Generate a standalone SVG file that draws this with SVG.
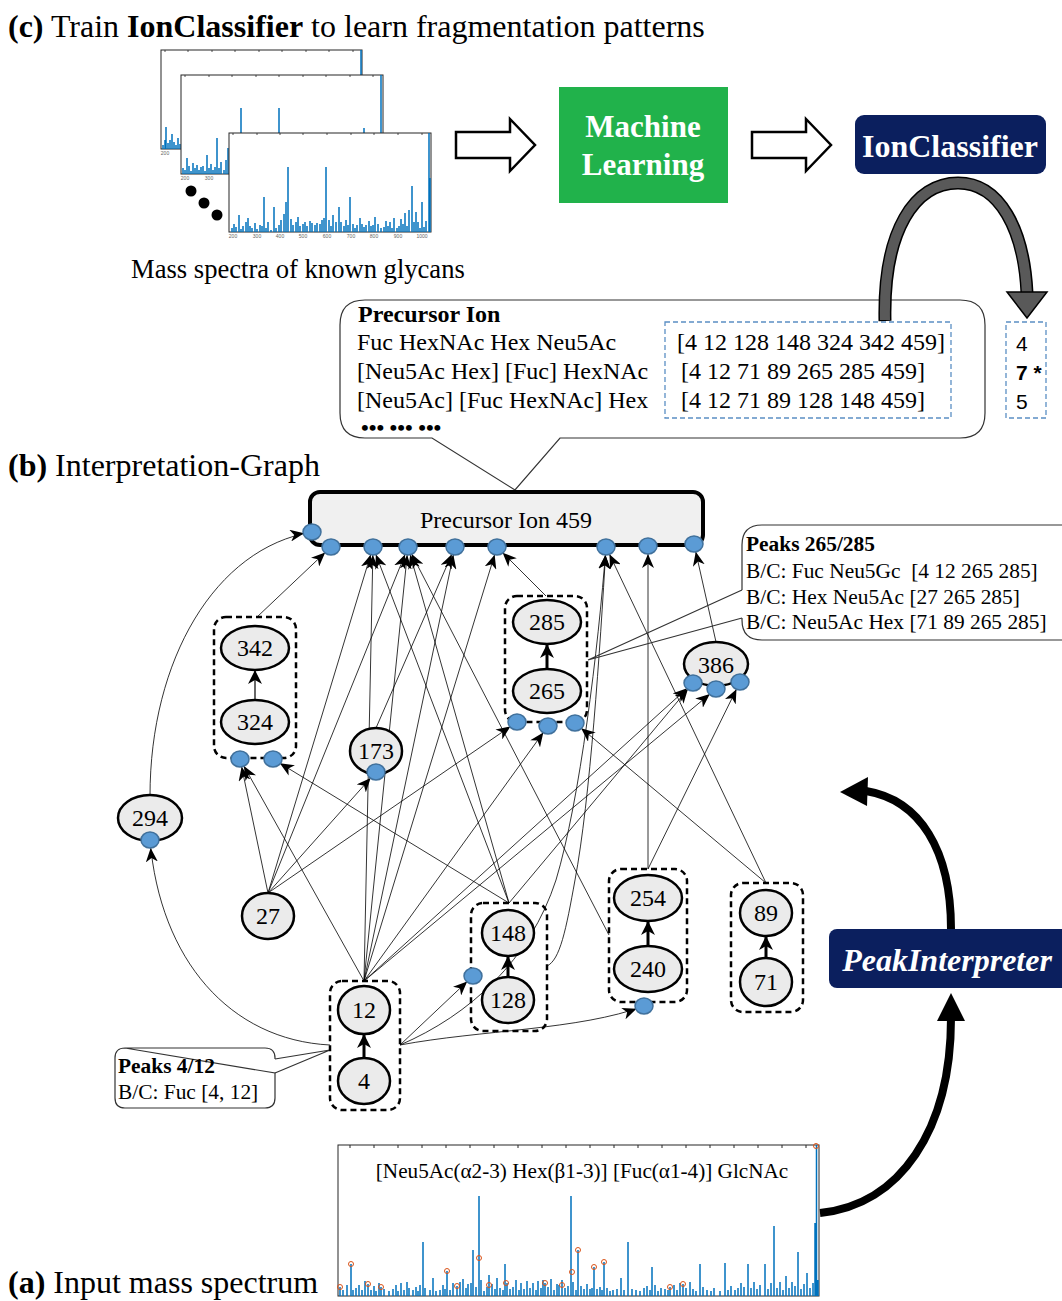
<svg xmlns="http://www.w3.org/2000/svg" width="1062" height="1301" viewBox="0 0 1062 1301">
<style>
text{font-family:"Liberation Serif","Times New Roman",serif;fill:#000}
.t27{font-size:32px}
.b{font-weight:bold}
.node{fill:#ebebeb;stroke:#000;stroke-width:2.5}
.num{font-size:24px;text-anchor:middle}
.grp{fill:none;stroke:#000;stroke-width:2.5;stroke-dasharray:6 4}
.dot{fill:#5b9bd5;stroke:#41719c;stroke-width:1.5}
.e{fill:none;stroke:#000;stroke-width:0.8;marker-end:url(#ah)}
.st{fill:none;stroke:#000;stroke-width:3;marker-end:url(#ah2)}
.frame{fill:#fff;stroke:#262626;stroke-width:1}
.tk{fill:none;stroke:#262626;stroke-width:0.8}
.bars{fill:none;stroke:#0072bd;stroke-width:1.5}
.tick{font-family:"Liberation Sans",Arial,sans-serif;font-size:5px;fill:#666;text-anchor:middle}
.call{fill:#fff;stroke:#333;stroke-width:1.2}
.ct{font-size:24px}
.pk{font-size:21.4px}
.pk2{font-family:"Liberation Sans",Arial,sans-serif;font-size:21px}
.pkc{fill:none;stroke:#d95319;stroke-width:1}
</style>
<defs>
<marker id="ah" markerWidth="16" markerHeight="12" refX="22" refY="6" orient="auto" markerUnits="userSpaceOnUse"><path d="M0,0 L14,6 L0,12 L4,6 z" fill="#000"/></marker>
<marker id="ah2" markerWidth="16" markerHeight="14" refX="14" refY="7" orient="auto" markerUnits="userSpaceOnUse"><path d="M0,0 L14,7 L0,14 L4,7 z" fill="#000"/></marker>
</defs>

<!-- (c) section -->
<text class="t27" x="8" y="37"><tspan class="b">(c)</tspan> Train <tspan class="b">IonClassifier</tspan> to learn fragmentation patterns</text>

<g id="spectra-stack">
<rect class="frame" x="161" y="50" width="201" height="99"/>
<path class="tk" d="M165,50v2M188,50v2M212,50v2M235,50v2M259,50v2M282,50v2M306,50v2M329,50v2M353,50v2"/>
<path class="bars" d="M163,149V145M165,149V140M166,149V127M168,149V143M170,149V140M172,149V134M174,149V142M176,149V145M178,149V138M180,149V144M361,149V50"/>
<text class="tick" x="165" y="155">200</text>
<rect class="frame" x="181" y="75" width="202" height="99"/>
<path class="tk" d="M185,75v2M209,75v2M232,75v2M256,75v2M279,75v2M303,75v2M326,75v2M350,75v2M373,75v2"/>
<path class="bars" d="M183,174V168M185,174V170M187,174V158M189,174V166M191,174V171M193,174V163M195,174V168M197,174V165M199,174V170M201,174V167M203,174V166M205,174V171M207,174V155M209,174V168M211,174V164M213,174V170M215,174V167M217,174V138M219,174V168M221,174V162M224,174V170M226,174V160M228,174V148M241,174V108M279,174V108M364,174V128M381,174V75"/>
<text class="tick" x="185" y="180">200</text>
<text class="tick" x="209" y="180">300</text>
<rect class="frame" x="229" y="133" width="202" height="99"/>
<path class="tk" d="M233,133v2M257,133v2M280,133v2M303,133v2M327,133v2M351,133v2M374,133v2M398,133v2M422,133v2"/>
<path class="bars" d="M232,232V228M234,232V224M236,232V227M239,232V215M241,232V229M243,232V226M246,232V222M248,232V218M250,232V226M252,232V228M255,232V223M257,232V229M260,232V225M262,232V226M264,232V197M266,232V228M268,232V222M271,232V230M274,232V207M276,232V228M279,232V225M281,232V220M284,232V214M286,232V202M288,232V167M291,232V219M293,232V225M296,232V222M298,232V217M300,232V226M303,232V224M305,232V222M307,232V226M310,232V221M312,232V223M315,232V225M317,232V223M320,232V224M322,232V220M324,232V218M326,232V167M329,232V220M331,232V226M333,232V215M336,232V222M339,232V207M341,232V222M344,232V226M346,232V220M348,232V225M350,232V197M353,232V224M355,232V228M357,232V225M360,232V218M362,232V224M364,232V227M366,232V225M369,232V221M371,232V226M373,232V225M375,232V217M378,232V224M381,232V228M384,232V227M386,232V221M388,232V226M390,232V222M392,232V228M394,232V218M397,232V228M399,232V226M401,232V219M403,232V224M405,232V213M407,232V226M409,232V210M412,232V186M414,232V222M416,232V212M418,232V222M420,232V228M422,232V202M424,232V227M426,232V221M429,232V133M430,232V178"/>
<text class="tick" x="233" y="238">200</text><text class="tick" x="257" y="238">300</text><text class="tick" x="280" y="238">400</text><text class="tick" x="303" y="238">500</text><text class="tick" x="327" y="238">600</text><text class="tick" x="351" y="238">700</text><text class="tick" x="374" y="238">800</text><text class="tick" x="398" y="238">900</text><text class="tick" x="422" y="238">1000</text>
<circle cx="191" cy="191" r="5.5"/><circle cx="204" cy="203" r="5.5"/><circle cx="217" cy="215" r="5.5"/>
</g>
<text x="131" y="278" style="font-size:26.6px">Mass spectra of known glycans</text>

<g id="arrow-1"><polygon points="456,132 510,132 510,119 535,145 510,171 510,158 456,158" fill="#fff" stroke="#000" stroke-width="2.5"/></g>
<g id="machine-learning">
<rect x="559" y="87" width="169" height="116" fill="#21b24b"/>
<text x="643" y="137" class="b" style="font-size:31px;fill:#fff;text-anchor:middle">Machine</text>
<text x="643" y="175" class="b" style="font-size:31px;fill:#fff;text-anchor:middle">Learning</text>
</g>
<g id="arrow-2"><polygon points="752,132 806,132 806,119 831,145 806,171 806,158 752,158" fill="#fff" stroke="#000" stroke-width="2.5"/></g>
<g id="ionclassifier">
<rect x="855" y="115" width="191" height="59" rx="9" fill="#0b1f5e"/>
<text x="950" y="157" class="b" style="font-size:32px;fill:#fff;text-anchor:middle">IonClassifier</text>
</g>

<!-- Precursor Ion callout -->
<g id="precursor-callout">
<path class="call" d="M365,300 H960 Q985,300 985,325 V413 Q985,438 960,438 H560 L515,490 L432,438 H365 Q340,438 340,413 V325 Q340,300 365,300 Z"/>
<text x="358" y="322" class="ct b">Precursor Ion</text>
<text x="357" y="350" class="ct">Fuc HexNAc Hex Neu5Ac</text>
<text x="357" y="379" class="ct">[Neu5Ac Hex] [Fuc] HexNAc</text>
<text x="357" y="408" class="ct">[Neu5Ac] [Fuc HexNAc] Hex</text>
<text x="361" y="435" class="b" style="font-size:22px">••• ••• •••</text>
<rect x="665" y="322" width="286" height="96" fill="none" stroke="#5b8fc4" stroke-width="1.3" stroke-dasharray="5 3"/>
<text x="677" y="350" class="ct">[4 12 128 148 324 342 459]</text>
<text x="681" y="379" class="ct">[4 12 71 89 265 285 459]</text>
<text x="681" y="408" class="ct">[4 12 71 89 128 148 459]</text>
</g>
<g id="class-result">
<rect x="1006" y="322" width="40" height="96" fill="none" stroke="#5b8fc4" stroke-width="1.3" stroke-dasharray="5 3"/>
<text x="1016" y="351" class="pk2">4</text>
<text x="1016" y="380" class="pk2 b">7 *</text>
<text x="1016" y="409" class="pk2">5</text>
</g>
<g id="classify-arrow">
<path d="M885,321 C883,230 915,183 958,183 C1000,183 1024,230 1027,293" fill="none" stroke="#000" stroke-width="13"/>
<path d="M885,320 C883,230 915,183 958,183 C1000,183 1024,230 1027,294" fill="none" stroke="#595959" stroke-width="10"/>
<polygon points="1007,292 1047,292 1027,318" fill="#595959" stroke="#000" stroke-width="1.5"/>
</g>

<text class="t27" x="8" y="476"><tspan class="b">(b)</tspan> Interpretation-Graph</text>

<!-- connectors -->
<g id="connectors">
<path class="e" d="M150,796 C150,660 215,548 312,532"/>
<path class="e" d="M257,617 L331,547"/>
<path class="e" d="M268,893 L373,547"/>
<path class="e" d="M364,981 L373,547"/>
<path class="e" d="M509,903 L373,547"/>
<path class="e" d="M268,893 L408,547"/>
<path class="e" d="M364,981 L408,547"/>
<path class="e" d="M509,903 L408,547"/>
<path class="e" d="M609,935 L408,547"/>
<path class="e" d="M376,728 L455,547"/>
<path class="e" d="M364,981 L455,547"/>
<path class="e" d="M546,596 L497,547"/>
<path class="e" d="M364,981 L497,547"/>
<path class="e" d="M547,966 C560,960 566,930 575,880 C590,800 600,650 606,547"/>
<path class="e" d="M400,1045 C470,1015 530,960 556,880 C580,800 598,650 606,547"/>
<path class="e" d="M766,883 L606,547"/>
<path class="e" d="M648,869 L648,546"/>
<path class="e" d="M716,642 L694,544"/>
<path class="e" d="M268,893 L240,759"/>
<path class="e" d="M364,981 L240,759"/>
<path class="e" d="M509,903 L273,759"/>
<path class="e" d="M268,893 L376,772"/>
<path class="e" d="M268,893 L517,722"/>
<path class="e" d="M364,981 L548,726"/>
<path class="e" d="M766,883 L575,723"/>
<path class="e" d="M364,981 L693,683"/>
<path class="e" d="M509,903 L693,683"/>
<path class="e" d="M364,981 L716,689"/>
<path class="e" d="M648,869 L740,682"/>
<path class="e" d="M330,1045 C230,1040 160,960 150,840"/>
<path class="e" d="M400,1045 L473,976"/>
<path class="e" d="M400,1045 C480,1030 580,1030 644,1006"/>
<path d="M588,660 L742,590 M588,660 L742,618" stroke="#333" stroke-width="1.2" fill="none"/>
<path d="M330,1050 L275,1059 M330,1050 L275,1073" stroke="#333" stroke-width="1.2" fill="none"/>
</g>

<g id="precursor-459">
<rect x="310" y="492" width="393" height="53" rx="10" fill="#f0f0f0" stroke="#000" stroke-width="4"/>
<text x="506" y="528" style="font-size:24px;text-anchor:middle">Precursor Ion 459</text>
<ellipse class="dot" cx="312" cy="532" rx="9" ry="8"/>
<ellipse class="dot" cx="331" cy="547" rx="9" ry="8"/>
<ellipse class="dot" cx="373" cy="547" rx="9" ry="8"/>
<ellipse class="dot" cx="408" cy="547" rx="9" ry="8"/>
<ellipse class="dot" cx="455" cy="547" rx="9" ry="8"/>
<ellipse class="dot" cx="497" cy="547" rx="9" ry="8"/>
<ellipse class="dot" cx="606" cy="547" rx="9" ry="8"/>
<ellipse class="dot" cx="648" cy="546" rx="9" ry="8"/>
<ellipse class="dot" cx="694" cy="544" rx="9" ry="8"/>
</g>

<g id="group-342-324">
<rect class="grp" x="214" y="617" width="82" height="141" rx="12"/>
<path class="e" style="stroke-width:1.2;marker-end:url(#ah2)" d="M255,700 L255,670"/>
<ellipse class="node" cx="255" cy="648" rx="34" ry="22"/><text class="num" x="255" y="656">342</text>
<ellipse class="node" cx="255" cy="722" rx="34" ry="22"/><text class="num" x="255" y="730">324</text>
<ellipse class="dot" cx="240" cy="759" rx="9" ry="8"/>
<ellipse class="dot" cx="273" cy="759" rx="9" ry="8"/>
</g>
<g id="node-173">
<ellipse class="node" cx="376" cy="751" rx="26" ry="23"/><text class="num" x="376" y="759">173</text>
<ellipse class="dot" cx="376" cy="772" rx="9" ry="8"/>
</g>
<g id="node-294">
<ellipse class="node" cx="150" cy="818" rx="32" ry="23"/><text class="num" x="150" y="826">294</text>
<ellipse class="dot" cx="150" cy="840" rx="9" ry="8"/>
</g>
<g id="group-285-265">
<rect class="grp" x="505" y="596" width="82" height="126" rx="12"/>
<path class="st" d="M547,669 L547,644"/>
<ellipse class="node" cx="547" cy="622" rx="34" ry="22"/><text class="num" x="547" y="630">285</text>
<ellipse class="node" cx="547" cy="691" rx="34" ry="22"/><text class="num" x="547" y="699">265</text>
<ellipse class="dot" cx="517" cy="722" rx="9" ry="8"/>
<ellipse class="dot" cx="548" cy="726" rx="9" ry="8"/>
<ellipse class="dot" cx="575" cy="723" rx="9" ry="8"/>
</g>
<g id="node-386">
<ellipse class="node" cx="716" cy="664" rx="32" ry="22"/><text class="num" x="716" y="673">386</text>
<ellipse class="dot" cx="693" cy="683" rx="9" ry="8"/>
<ellipse class="dot" cx="716" cy="689" rx="9" ry="8"/>
<ellipse class="dot" cx="740" cy="682" rx="9" ry="8"/>
</g>
<g id="node-27">
<ellipse class="node" cx="268" cy="916" rx="26" ry="23"/><text class="num" x="268" y="924">27</text>
</g>
<g id="group-12-4">
<rect class="grp" x="330" y="981" width="70" height="129" rx="12"/>
<path class="st" d="M364,1057 L364,1034"/>
<ellipse class="node" cx="364" cy="1010" rx="26" ry="24"/><text class="num" x="364" y="1018">12</text>
<ellipse class="node" cx="364" cy="1081" rx="26" ry="23"/><text class="num" x="364" y="1089">4</text>
</g>
<g id="group-148-128">
<rect class="grp" x="471" y="903" width="76" height="128" rx="12"/>
<path class="st" d="M508,977 L508,956"/>
<ellipse class="node" cx="508" cy="933" rx="26" ry="23"/><text class="num" x="508" y="941">148</text>
<ellipse class="node" cx="508" cy="1000" rx="26" ry="23"/><text class="num" x="508" y="1008">128</text>
<ellipse class="dot" cx="473" cy="976" rx="9" ry="8"/>
</g>
<g id="group-254-240">
<rect class="grp" x="609" y="869" width="78" height="133" rx="12"/>
<path class="st" d="M648,946 L648,921"/>
<ellipse class="node" cx="648" cy="898" rx="34" ry="23"/><text class="num" x="648" y="906">254</text>
<ellipse class="node" cx="648" cy="969" rx="34" ry="23"/><text class="num" x="648" y="977">240</text>
<ellipse class="dot" cx="644" cy="1006" rx="9" ry="8"/>
</g>
<g id="group-89-71">
<rect class="grp" x="731" y="883" width="72" height="129" rx="12"/>
<path class="st" d="M766,958 L766,936"/>
<ellipse class="node" cx="766" cy="913" rx="26" ry="23"/><text class="num" x="766" y="921">89</text>
<ellipse class="node" cx="766" cy="982" rx="26" ry="24"/><text class="num" x="766" y="990">71</text>
</g>

<g id="peaks-265-285">
<path class="call" d="M762,525 H1075 V640 H762 Q742,640 742,620 V618 M742,590 V545 Q742,525 762,525"/>
<text x="746" y="551" class="pk b">Peaks 265/285</text>
<text x="746" y="578" class="pk" xml:space="preserve">B/C: Fuc Neu5Gc  [4 12 265 285]</text>
<text x="746" y="604" class="pk">B/C: Hex Neu5Ac [27 265 285]</text>
<text x="746" y="629" class="pk">B/C: Neu5Ac Hex [71 89 265 285]</text>
</g>
<g id="peaks-4-12">
<path class="call" d="M125,1048 H265 Q275,1048 275,1058 V1059 M275,1073 V1098 Q275,1108 265,1108 H125 Q115,1108 115,1098 V1058 Q115,1048 125,1048 Z"/>
<text x="118" y="1073" class="pk b">Peaks 4/12</text>
<text x="118" y="1099" class="pk">B/C: Fuc [4, 12]</text>
</g>

<g id="peak-interpreter">
<rect x="829" y="929" width="240" height="59" rx="8" fill="#0b1f5e"/>
<text x="947" y="971" class="b" style="font-size:32px;font-style:italic;fill:#fff;text-anchor:middle">PeakInterpreter</text>
</g>
<g id="interp-arrows">
<path d="M951,929 C951,850 920,800 866,791" fill="none" stroke="#000" stroke-width="8"/>
<polygon points="840,792 868,777 867,806" fill="#000"/>
<path d="M820,1213 C900,1205 951,1130 951,1018" fill="none" stroke="#000" stroke-width="8"/>
<polygon points="951,993 937,1021 965,1021" fill="#000"/>
</g>

<g id="input-spectrum">
<rect x="338" y="1145" width="481" height="151" fill="#fff" stroke="#262626" stroke-width="1"/>
<path d="M350,1145v3M374,1145v3M398,1145v3M422,1145v3M446,1145v3M470,1145v3M494,1145v3M518,1145v3M542,1145v3M566,1145v3M590,1145v3M614,1145v3M638,1145v3M662,1145v3M686,1145v3M710,1145v3M734,1145v3M758,1145v3M782,1145v3M806,1145v3" stroke="#262626" stroke-width="1"/>
<path class="bars" d="M340,1296V1287M343,1296V1290M347,1296V1285M351,1296V1264M353,1296V1290M356,1296V1288M359,1296V1285M362,1296V1290M365,1296V1281M368,1296V1284M371,1296V1290M374,1296V1286M376,1296V1291M379,1296V1283M381,1296V1287M384,1296V1289M389,1296V1291M393,1296V1289M396,1296V1285M398,1296V1291M401,1296V1283M404,1296V1290M407,1296V1282M409,1296V1288M413,1296V1290M416,1296V1287M418,1296V1291M420,1296V1285M423,1296V1242M425,1296V1288M430,1296V1290M433,1296V1278M436,1296V1291M440,1296V1290M443,1296V1285M445,1296V1289M447,1296V1271M450,1296V1290M453,1296V1283M457,1296V1286M460,1296V1282M463,1296V1279M466,1296V1288M468,1296V1284M471,1296V1283M473,1296V1250M476,1296V1287M479,1296V1196M481,1296V1280M484,1296V1291M487,1296V1287M489,1296V1275M492,1296V1284M495,1296V1289M497,1296V1278M500,1296V1288M503,1296V1290M505,1296V1264M507,1296V1283M510,1296V1289M513,1296V1287M516,1296V1280M519,1296V1290M521,1296V1283M524,1296V1289M527,1296V1281M530,1296V1288M533,1296V1283M536,1296V1290M538,1296V1281M541,1296V1288M543,1296V1280M545,1296V1283M548,1296V1287M551,1296V1279M554,1296V1290M557,1296V1284M559,1296V1285M562,1296V1280M565,1296V1288M568,1296V1286M571,1296V1196M573,1296V1282M576,1296V1290M578,1296V1250M581,1296V1286M584,1296V1289M587,1296V1284M590,1296V1289M592,1296V1288M594,1296V1267M597,1296V1289M600,1296V1287M602,1296V1290M604,1296V1262M607,1296V1288M610,1296V1291M613,1296V1290M617,1296V1289M621,1296V1278M624,1296V1290M628,1296V1242M632,1296V1289M636,1296V1290M640,1296V1291M644,1296V1288M647,1296V1286M650,1296V1290M652,1296V1267M655,1296V1285M658,1296V1291M661,1296V1288M665,1296V1289M668,1296V1290M670,1296V1287M674,1296V1285M677,1296V1290M680,1296V1283M683,1296V1284M686,1296V1288M690,1296V1282M693,1296V1289M696,1296V1291M700,1296V1264M703,1296V1287M707,1296V1290M711,1296V1291M714,1296V1288M720,1296V1291M725,1296V1263M728,1296V1290M731,1296V1286M735,1296V1290M738,1296V1288M741,1296V1283M744,1296V1287M748,1296V1264M751,1296V1288M754,1296V1282M757,1296V1289M760,1296V1285M765,1296V1264M768,1296V1289M771,1296V1283M774,1296V1226M777,1296V1288M780,1296V1282M783,1296V1290M786,1296V1276M789,1296V1288M792,1296V1282M795,1296V1286M798,1296V1252M801,1296V1289M804,1296V1284M807,1296V1273M810,1296V1288M813,1296V1283M815,1296V1223M816.5,1296V1145M818,1296V1280"/>
<g class="pkc"><circle cx="340" cy="1287" r="2.5"/><circle cx="351" cy="1264" r="2.5"/><circle cx="368" cy="1284" r="2.5"/><circle cx="381" cy="1287" r="2.5"/><circle cx="447" cy="1271" r="2.5"/><circle cx="457" cy="1286" r="2.5"/><circle cx="479" cy="1258" r="2.5"/><circle cx="489" cy="1285" r="2.5"/><circle cx="506" cy="1283" r="2.5"/><circle cx="545" cy="1283" r="2.5"/><circle cx="562" cy="1285" r="2.5"/><circle cx="572" cy="1272" r="2.5"/><circle cx="578" cy="1250" r="2.5"/><circle cx="594" cy="1267" r="2.5"/><circle cx="604" cy="1262" r="2.5"/><circle cx="670" cy="1287" r="2.5"/><circle cx="683" cy="1284" r="2.5"/><circle cx="816" cy="1146" r="2.5"/></g>
<text x="582" y="1178" style="font-size:21.2px;text-anchor:middle">[Neu5Ac(α2-3) Hex(β1-3)] [Fuc(α1-4)] GlcNAc</text>
</g>
<text class="t27" x="8" y="1293"><tspan class="b">(a)</tspan> Input mass spectrum</text>
</svg>
